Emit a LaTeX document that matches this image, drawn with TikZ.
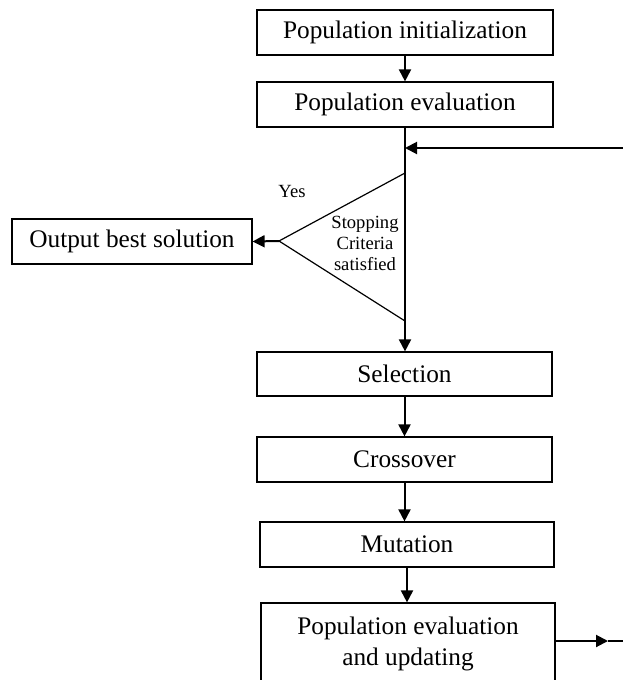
\documentclass[tikz,border=0pt]{standalone}
\usepackage{fontspec}
\setmainfont{Liberation Serif}
\usetikzlibrary{arrows.meta}
\begin{document}
\begin{tikzpicture}[x=1pt,y=-1pt,
  box/.style={draw=black,line width=1.2pt,fill=white,inner sep=0pt,
    font=\fontsize{25.3}{31}\selectfont,align=center},
  conn/.style={line width=2pt,-{Triangle[length=12pt,width=12pt]}},
  plain/.style={line width=2pt},
  tri/.style={draw=black,line width=1.2pt},
  small/.style={font=\fontsize{18.6}{21}\selectfont,align=center,inner sep=0pt}]
\useasboundingbox[fill=white] (0,0) rectangle (623,680);
\node[box,minimum width=296pt,minimum height=45pt] (init) at (405,32.5) {Population initialization};
\node[box,minimum width=296pt,minimum height=45pt] (eval) at (405,104.5) {Population evaluation};
\node[box,minimum width=240pt,minimum height=45pt] (out) at (132,241.5) {Output best solution};
\node[box,minimum width=295pt,minimum height=44pt] (sel) at (404.5,374) {Selection};
\node[box,minimum width=295pt,minimum height=45pt] (cross) at (404.5,459.5) {Crossover};
\node[box,minimum width=294pt,minimum height=45pt] (mut) at (407,544.5) {Mutation};
\node[box,minimum width=294pt,minimum height=82pt] (upd) at (408,644) {Population evaluation\\and updating};
% triangle
\coordinate (tA) at (405,173);
\coordinate (tL) at (279,241);
\coordinate (tB) at (405,321);
\draw[tri] (tA) -- (tL) -- (tB);
\node[small] (crit) at (365,243) {Stopping\\Criteria\\satisfied};
\node[small] (yes) at (292,191) {Yes};
% connectors
\draw[conn] (init.south) -- (eval.north);
\draw[conn] (eval.south) -- (eval.south |- sel.north);
\coordinate (fbR) at (623,148);
\coordinate (fbL) at (405,148);
\draw[conn] (fbR) -- (fbL);
\draw[conn] (tL) -- (out.east);
\draw[conn] (sel.south) -- (cross.north);
\draw[conn] (cross.south) -- (cross.south |- mut.north);
\draw[conn] (mut.south) -- (mut.south |- upd.north);
\coordinate (oR) at (623,641);
\coordinate (oM) at (608,641);
\draw[conn] (upd.east |- oR) -- (oM);
\draw[plain] (oM) -- (oR);
\end{tikzpicture}
\end{document}
